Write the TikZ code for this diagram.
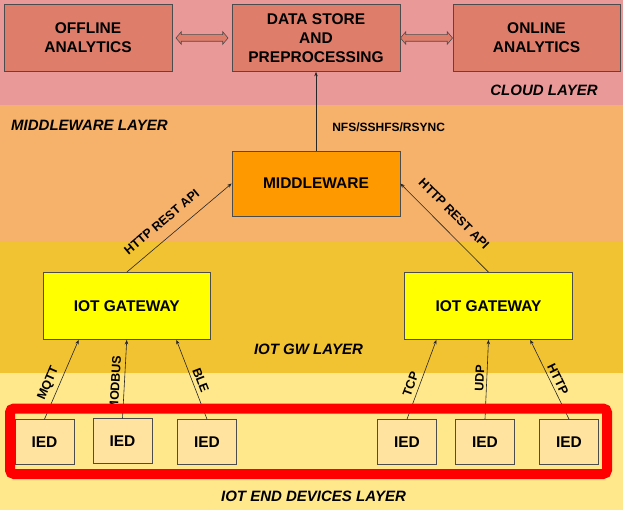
\documentclass[tikz,border=0pt]{standalone}
\usepackage{fontspec}
\setmainfont{Liberation Sans}
\usetikzlibrary{shapes.arrows,calc,arrows.meta}
\definecolor{cloudbg}{HTML}{EA9999}
\definecolor{boxred}{HTML}{DF7D6B}
\definecolor{mwbg}{HTML}{F6B26B}
\definecolor{mworange}{HTML}{FF9900}
\definecolor{gwbg}{HTML}{F1C232}
\definecolor{gwyellow}{HTML}{FFFF00}
\definecolor{endbg}{HTML}{FFE88C}
\definecolor{iedfill}{HTML}{FFE39E}
\definecolor{framered}{HTML}{FF0000}
\tikzset{
  box/.style={draw=black!70, line width=0.7pt, align=center, inner sep=0pt,
    font=\fontsize{15.5}{19}\selectfont\bfseries},
  cloudbox/.style={box, fill=boxred, minimum width=168pt, minimum height=67pt},
  gwbox/.style={box, fill=gwyellow, minimum width=167.5pt, minimum height=67pt},
  iedbox/.style={box, fill=iedfill, minimum width=59pt, minimum height=44.5pt},
  dblarrow/.style={double arrow, draw=black!70, fill=boxred, line width=0.6pt,
    minimum height=52pt, inner sep=3pt, double arrow head extend=3pt,
    double arrow tip angle=100},
  link/.style={->, draw=black!85, line width=0.6pt},
  lbl/.style={font=\fontsize{12.5}{13}\selectfont\bfseries, inner sep=2pt, sloped},
  layertitle/.style={font=\fontsize{15}{18}\selectfont\bfseries\itshape, inner sep=0pt}
}
\begin{document}
\begin{tikzpicture}[x=1pt,y=-1pt,>={Stealth[length=4.5pt,width=3.5pt]}]
\useasboundingbox (0,0) rectangle (623,513);
% layers
\fill[cloudbg] (0,0) rectangle (623,105);
\fill[mwbg] (0,105) rectangle (623,242);
\fill[gwbg] (0,242) rectangle (623,373);
\fill[endbg] (0,373) rectangle (623,510);
\node[layertitle] (cloudlbl) at (544,90) {CLOUD LAYER};
\node[layertitle, anchor=west] (mwlbl) at (11,125) {MIDDLEWARE LAYER};
\node[layertitle] (gwlbl) at (308.5,349) {IOT GW LAYER};
\node[layertitle] (endlbl) at (313.5,496) {IOT END DEVICES LAYER};
% cloud
\node[cloudbox] (off) at (88,38) {OFFLINE\\ANALYTICS};
\node[cloudbox] (ds) at (316,38) {DATA STORE\\AND\\PREPROCESSING};
\node[cloudbox, minimum width=167pt] (onl) at (536.5,38) {ONLINE\\ANALYTICS};
\node[dblarrow] (a1) at ($(off.east)!0.5!(ds.west)$) {};
\node[dblarrow] (a2) at ($(ds.east)!0.5!(onl.west)$) {};
% middleware and gateways
\node[box, fill=mworange, minimum width=168pt, minimum height=65pt] (mw) at (316,183.5) {MIDDLEWARE};
\node[gwbox] (gwl) at (126.75,306) {IOT GATEWAY};
\node[gwbox] (gwr) at (488.5,306) {IOT GATEWAY};
% end devices
\node[iedbox] (ied1) at (44.5,441.75) {IED};
\node[iedbox] (ied2) at (122.5,441) {IED};
\node[iedbox] (ied3) at (207,441.75) {IED};
\node[iedbox] (ied4) at (407,441.75) {IED};
\node[iedbox] (ied5) at (485,441.75) {IED};
\node[iedbox] (ied6) at (569,441.75) {IED};
% links
\draw[link] (mw.north) -- node[lbl, pos=0.3, right=14pt, sloped=false, font=\fontsize{12}{13}\selectfont\bfseries] {NFS/SSHFS/RSYNC} (ds.south);
\draw[link] (gwl.north) -- node[lbl, pos=0.43, above=9pt] {HTTP REST API} (mw.west);
\draw[link] (gwr.north) -- node[lbl, pos=0.525, above=10pt] {HTTP REST API} (mw.east);
\draw[link] (ied1.north) -- node[lbl, pos=0.4, above=2.5pt] {MQTT} ([xshift=36pt]gwl.south west);
\draw[link] (ied2.north) -- node[lbl, pos=0.44, above=2.5pt] {MODBUS} (gwl.south);
\draw[link] (ied3.north) -- node[lbl, pos=0.45, above=1.5pt] {BLE} ([xshift=-34.5pt]gwl.south east);
\draw[link] (ied4.north) -- node[lbl, pos=0.4, above=2pt] {TCP} ([xshift=32pt]gwr.south west);
\draw[link] (ied5.north) -- node[lbl, pos=0.51, above=0.5pt] {UDP} (gwr.south);
\draw[link] (ied6.north) -- node[lbl, pos=0.46, above=1pt] {HTTP} ([xshift=-42.4pt]gwr.south east);
% frame round the end devices
\draw[framered, line width=10pt, rounded corners=4pt] (10,408.5) rectangle (607,474);
\end{tikzpicture}
\end{document}
